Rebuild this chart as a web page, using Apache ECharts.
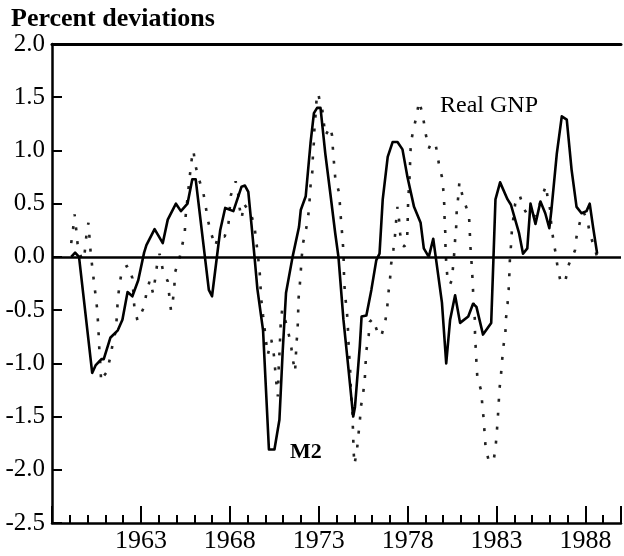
<!DOCTYPE html>
<html>
<head>
<meta charset="utf-8">
<script src="https://cdn.jsdelivr.net/npm/echarts@6/dist/echarts.min.js"></script>
<style>
html,body{margin:0;padding:0;background:#fff;}
#chart{width:624px;height:556px;}
</style>
</head>
<body>
<div id="chart"></div>
<script>
// ---- Data ----
var m2Years = [1959.08,1959.30,1959.52,1960.26,1960.45,1960.78,1960.91,1961.28,1961.70,1961.96,1962.25,1962.52,1962.85,1963.18,1963.31,1963.77,1964.23,1964.51,1964.97,1965.25,1965.62,1965.89,1966.08,1966.82,1967.00,1967.46,1967.74,1968.20,1968.66,1968.85,1969.04,1969.22,1969.39,1969.55,1969.87,1970.20,1970.51,1970.79,1970.97,1971.16,1971.53,1971.89,1971.99,1972.27,1972.54,1972.73,1972.91,1973.10,1973.37,1973.65,1973.93,1974.11,1974.39,1974.66,1974.94,1975.04,1975.31,1975.41,1975.68,1975.96,1976.24,1976.42,1976.60,1976.88,1977.16,1977.43,1977.71,1977.99,1978.36,1978.73,1978.91,1979.19,1979.44,1979.58,1979.93,1980.17,1980.39,1980.67,1980.76,1980.95,1981.41,1981.68,1981.87,1982.24,1982.70,1982.83,1982.94,1983.20,1983.62,1983.81,1984.27,1984.49,1984.73,1984.91,1985.19,1985.47,1985.74,1985.97,1986.08,1986.39,1986.67,1986.95,1987.22,1987.50,1987.78,1988.06,1988.24,1988.43,1988.66];
var m2Values = [0.00,0.04,0.00,-1.09,-1.02,-0.96,-0.96,-0.76,-0.69,-0.59,-0.33,-0.37,-0.22,0.04,0.11,0.26,0.13,0.35,0.50,0.43,0.50,0.73,0.73,-0.31,-0.37,0.25,0.46,0.43,0.66,0.67,0.61,0.30,0.00,-0.30,-0.69,-1.81,-1.81,-1.53,-0.90,-0.34,0.00,0.28,0.44,0.57,1.07,1.35,1.40,1.40,0.97,0.60,0.22,0.00,-0.59,-1.03,-1.50,-1.41,-0.84,-0.56,-0.55,-0.31,-0.03,0.03,0.54,0.94,1.08,1.08,1.01,0.75,0.47,0.32,0.08,0.00,0.17,0.00,-0.43,-1.00,-0.59,-0.36,-0.36,-0.62,-0.56,-0.44,-0.47,-0.73,-0.62,0.00,0.54,0.70,0.54,0.49,0.22,0.03,0.08,0.50,0.31,0.52,0.41,0.27,0.43,0.97,1.32,1.29,0.82,0.47,0.41,0.43,0.50,0.28,0.03];

var gnpYears = [1959.08,1959.19,1959.27,1959.36,1959.44,1959.63,1959.80,1959.89,1959.97,1960.05,1960.11,1960.17,1960.26,1960.35,1960.45,1960.54,1960.59,1960.63,1960.67,1960.73,1960.76,1960.91,1961.09,1961.28,1961.41,1961.59,1961.65,1961.70,1961.80,1961.91,1962.07,1962.29,1962.52,1962.63,1962.81,1963.18,1963.31,1963.50,1963.68,1963.81,1963.92,1964.05,1964.23,1964.51,1964.60,1964.69,1964.79,1964.88,1964.91,1965.16,1965.34,1965.47,1965.52,1965.65,1965.77,1965.86,1965.95,1966.08,1966.28,1966.49,1966.63,1966.76,1966.95,1967.19,1967.32,1967.50,1967.71,1967.93,1968.06,1968.33,1968.48,1968.55,1968.67,1968.78,1969.00,1969.22,1969.40,1969.50,1969.59,1969.68,1969.72,1969.77,1969.87,1969.96,1970.05,1970.14,1970.33,1970.42,1970.51,1970.57,1970.64,1970.70,1970.73,1970.75,1970.79,1970.83,1970.86,1970.94,1971.16,1971.43,1971.53,1971.67,1971.75,1971.81,1971.84,1971.86,1971.93,1971.99,1972.04,1972.12,1972.30,1972.42,1972.49,1972.54,1972.64,1972.67,1972.73,1972.76,1972.82,1972.88,1972.97,1973.07,1973.19,1973.28,1973.37,1973.51,1973.65,1973.75,1973.80,1973.87,1973.93,1974.15,1974.20,1974.26,1974.33,1974.39,1974.41,1974.43,1974.48,1974.58,1974.63,1974.66,1974.70,1974.76,1974.79,1974.81,1974.89,1974.91,1974.94,1974.96,1975.01,1975.15,1975.22,1975.31,1975.37,1975.50,1975.59,1975.63,1975.68,1975.81,1975.87,1976.05,1976.29,1976.51,1976.74,1976.85,1976.92,1977.01,1977.07,1977.20,1977.29,1977.36,1977.43,1977.53,1977.58,1977.66,1977.81,1977.96,1977.99,1978.01,1978.03,1978.11,1978.18,1978.32,1978.51,1978.64,1978.78,1978.91,1979.01,1979.19,1979.37,1979.58,1979.69,1979.77,1979.93,1980.02,1980.06,1980.08,1980.12,1980.13,1980.17,1980.24,1980.38,1980.48,1980.54,1980.61,1980.67,1980.73,1980.76,1980.85,1980.91,1981.09,1981.31,1981.46,1981.50,1981.53,1981.59,1981.64,1981.68,1981.72,1981.78,1981.79,1981.83,1981.87,1981.92,1982.14,1982.20,1982.28,1982.33,1982.39,1982.57,1982.83,1982.94,1983.01,1983.07,1983.12,1983.16,1983.25,1983.31,1983.38,1983.50,1983.53,1983.62,1983.68,1983.72,1983.75,1983.81,1983.86,1983.95,1984.05,1984.30,1984.55,1984.79,1985.06,1985.34,1985.59,1985.78,1985.87,1986.01,1986.08,1986.21,1986.34,1986.45,1986.63,1986.89,1987.07,1987.41,1987.50,1987.68,1987.89,1988.11,1988.24,1988.48,1988.66];
var gnpValues = [0.13,0.27,0.40,0.26,0.12,0.00,-0.03,0.13,0.25,0.32,0.18,0.05,-0.09,-0.22,-0.36,-0.49,-0.62,-0.75,-0.90,-1.03,-1.17,-1.12,-1.08,-0.94,-0.82,-0.69,-0.55,-0.40,-0.26,-0.15,-0.10,-0.08,-0.20,-0.47,-0.60,-0.47,-0.34,-0.22,-0.34,-0.20,-0.06,0.03,-0.12,-0.23,-0.37,-0.50,-0.42,-0.29,-0.15,-0.02,0.12,0.24,0.39,0.60,0.79,0.92,1.00,0.85,0.72,0.62,0.49,0.35,0.22,0.10,0.19,0.20,0.19,0.32,0.58,0.71,0.58,0.46,0.36,0.50,0.45,0.39,0.27,0.13,0.00,-0.14,-0.26,-0.40,-0.55,-0.68,-0.81,-0.92,-0.78,-0.84,-0.97,-1.10,-1.22,-1.31,-1.17,-1.04,-0.91,-0.76,-0.64,-0.50,-0.62,-0.81,-0.95,-1.08,-0.81,-0.69,-0.55,-0.40,-0.28,-0.14,-0.01,0.13,0.27,0.40,0.54,0.67,0.80,0.94,1.08,1.21,1.33,1.48,1.54,1.45,1.40,1.27,1.14,1.18,1.22,1.14,1.01,0.86,0.74,0.60,0.47,0.33,0.19,0.05,-0.09,-0.22,-0.36,-0.50,-0.62,-0.75,-0.89,-1.03,-1.16,-1.28,-1.41,-1.55,-1.69,-1.82,-1.95,-1.82,-1.69,-1.55,-1.41,-1.28,-1.15,-1.02,-0.88,-0.74,-0.61,-0.58,-0.70,-0.75,-0.61,-0.48,-0.34,-0.21,-0.07,0.07,0.20,0.35,0.47,0.33,0.22,0.11,0.10,0.12,0.25,0.39,0.53,0.75,1.07,1.19,1.33,1.46,1.38,1.27,1.16,1.02,1.08,1.05,0.95,0.86,0.75,0.61,0.49,0.35,0.22,0.08,-0.05,-0.20,-0.26,-0.22,-0.12,0.01,0.16,0.28,0.43,0.57,0.70,0.57,0.46,0.36,0.22,0.10,-0.04,-0.18,-0.32,-0.45,-0.59,-0.72,-0.86,-0.99,-1.13,-1.26,-1.39,-1.53,-1.66,-1.80,-1.92,-1.92,-1.80,-1.66,-1.52,-1.38,-1.25,-1.11,-0.98,-0.85,-0.71,-0.58,-0.44,-0.31,-0.17,-0.03,0.10,0.24,0.37,0.50,0.58,0.45,0.38,0.36,0.45,0.58,0.67,0.56,0.45,0.30,0.14,0.02,-0.12,-0.25,-0.21,-0.07,0.06,0.19,0.32,0.42,0.35,0.22,0.10,0.00];

var yTicks = [-2.5, 2.0, 0.5];      // min, max, step
var xRange = [1958, 1990];
var xLabelYears = [1963, 1968, 1973, 1978, 1983, 1988];
var titleText = 'Percent deviations';
var gnpLabel = 'Real GNP';
var m2Label = 'M2';

// ---- Chart ----
var FONT = '"Liberation Serif", "Times New Roman", serif';
var chart = echarts.init(document.getElementById('chart'), null, {renderer: 'canvas'});

function pairs(xs, ys) { return xs.map(function (x, i) { return [x, ys[i]]; }); }

var option = {
  animation: false,
  backgroundColor: '#fff',
  grid: {left: 52, top: 44, width: 578, height: 479, containLabel: false},
  graphic: [
    {type: 'text', left: 11, top: 6, style: {text: titleText, font: 'bold 26px ' + FONT, fill: '#000'}},
    {type: 'text', x: 440, y: 106, style: {text: gnpLabel, font: '24px ' + FONT, fill: '#000', verticalAlign: 'middle'}},
    {type: 'text', x: 290, y: 452, style: {text: m2Label, font: 'bold 22px ' + FONT, fill: '#000', verticalAlign: 'middle'}}
  ],
  xAxis: [
    { // major ticks + labels
      type: 'value', min: xRange[0], max: xRange[1], interval: 5, position: 'bottom',
      axisLine: {show: true, onZero: false, lineStyle: {color: '#000', width: 2.5}},
      axisTick: {show: true, inside: true, length: 17, lineStyle: {color: '#000', width: 2}},
      axisLabel: {show: true, margin: 5, color: '#000', fontSize: 26, fontFamily: FONT,
        formatter: function (v) { return xLabelYears.indexOf(Math.round(v)) >= 0 ? String(Math.round(v)) : ''; }},
      splitLine: {show: false}
    },
    { // minor ticks
      type: 'value', min: xRange[0], max: xRange[1], interval: 1, position: 'bottom',
      axisLine: {show: false, onZero: false},
      axisTick: {show: true, inside: true, length: 8, lineStyle: {color: '#000', width: 2}},
      axisLabel: {show: false}, splitLine: {show: false}
    },
    { // top frame line
      type: 'value', min: xRange[0], max: xRange[1], position: 'top',
      axisLine: {show: true, onZero: false, lineStyle: {color: '#000', width: 3}},
      axisTick: {show: false}, axisLabel: {show: false}, splitLine: {show: false}
    }
  ],
  yAxis: {
    type: 'value', min: yTicks[0], max: yTicks[1], interval: yTicks[2],
    axisLine: {show: true, onZero: false, lineStyle: {color: '#000', width: 2.5}},
    axisTick: {show: true, inside: true, length: 10, lineStyle: {color: '#000', width: 2}},
    axisLabel: {show: true, margin: 7, color: '#000', fontSize: 25, fontFamily: FONT,
      formatter: function (v) { return v.toFixed(1); }},
    splitLine: {show: false}
  },
  series: [
    {
      name: 'M2', type: 'line', xAxisIndex: 0, data: pairs(m2Years, m2Values),
      showSymbol: false, symbol: 'none', smooth: false,
      lineStyle: {color: '#000', width: 2.6, join: 'round'},
      markLine: {
        silent: true, symbol: ['none', 'none'], label: {show: false},
        lineStyle: {color: '#000', width: 2.5, type: 'solid'},
        data: [{yAxis: 0}]
      },
      z: 3
    },
    {
      name: 'Real GNP', type: 'line', xAxisIndex: 0, data: pairs(gnpYears, gnpValues),
      showSymbol: false, symbol: 'none', smooth: false,
      lineStyle: {color: '#222', width: 2.6, type: [3, 11], cap: 'butt'},
      z: 2
    }
  ]
};
chart.setOption(option);
</script>
</body>
</html>
